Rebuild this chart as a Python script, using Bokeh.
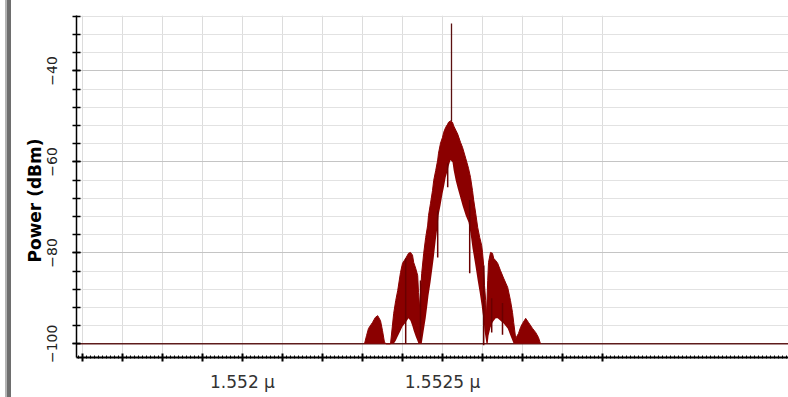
import numpy as np
from bokeh.plotting import figure
from bokeh.models import FixedTicker, CustomJSTickFormatter, Range1d, Div, Title
from bokeh.layouts import row
from bokeh.embed import file_html
from bokeh.resources import INLINE

# ---- spectrum envelope (wavelength in nm, power in dBm) ----
wavelength_nm = [
    1552.305, 1552.310, 1552.315, 1552.325, 1552.332, 1552.338, 1552.345, 1552.350,
    1552.355, 1552.360, 1552.370, 1552.378, 1552.383, 1552.388, 1552.395, 1552.400,
    1552.408, 1552.415, 1552.420, 1552.425, 1552.428, 1552.433, 1552.438, 1552.440,
    1552.443, 1552.445, 1552.448, 1552.453, 1552.458, 1552.463, 1552.465, 1552.470,
    1552.475, 1552.478, 1552.483, 1552.488, 1552.490, 1552.495, 1552.500, 1552.503,
    1552.508, 1552.513, 1552.515, 1552.520, 1552.525, 1552.528, 1552.533, 1552.538,
    1552.545, 1552.550, 1552.558, 1552.565, 1552.570, 1552.575, 1552.578, 1552.583,
    1552.588, 1552.593, 1552.598, 1552.600, 1552.603, 1552.605, 1552.608, 1552.610,
    1552.613, 1552.615, 1552.620, 1552.625, 1552.628, 1552.633, 1552.638, 1552.645,
    1552.653, 1552.663, 1552.670, 1552.675, 1552.678, 1552.683, 1552.690, 1552.695,
    1552.700, 1552.708, 1552.715, 1552.725, 1552.733, 1552.740, 1552.745,
]
upper_dbm = [
    -100.0, -98.2, -96.6, -95.3, -94.2, -93.8, -94.9, -97.1,
    -99.7, -100.0, -100.0, -93.3, -90.5, -88.3, -84.3, -82.3,
    -81.2, -80.1, -79.9, -80.5, -82.1, -83.4, -85.0, -88.7,
    -92.2, -88.7, -84.5, -80.1, -76.6, -73.9, -71.8, -69.1,
    -66.3, -64.1, -61.9, -59.6, -58.1, -55.9, -54.6, -53.5,
    -52.4, -51.7, -51.3, -51.0, -51.3, -52.1, -53.0, -53.9,
    -55.7, -56.8, -59.2, -61.4, -63.4, -66.3, -68.4, -71.3,
    -74.4, -76.6, -78.4, -79.9, -82.8, -87.2, -90.5, -93.8,
    -86.1, -82.1, -79.9, -80.1, -81.2, -81.7, -82.3, -83.9,
    -85.6, -87.6, -90.5, -93.1, -95.3, -98.8, -97.7, -96.4,
    -95.5, -94.4, -95.3, -96.6, -97.5, -98.6, -100.0,
]
lower_dbm = [
    -100.0, -100.0, -100.0, -100.0, -100.0, -100.0, -100.0, -100.0,
    -100.0, -100.0, -100.0, -100.0, -99.3, -98.4, -97.1, -96.2,
    -95.3, -94.4, -94.9, -96.2, -97.1, -98.4, -99.5, -100.0,
    -100.0, -100.0, -100.0, -97.1, -94.4, -90.9, -89.4, -86.5,
    -83.2, -81.2, -77.3, -73.9, -71.8, -69.6, -67.0, -65.8,
    -63.4, -61.9, -61.0, -59.6, -60.1, -61.9, -64.1, -65.8,
    -68.0, -69.6, -71.8, -73.3, -75.7, -79.0, -80.5, -83.2,
    -86.1, -88.7, -91.6, -93.1, -94.9, -97.1, -98.8, -100.0,
    -100.0, -98.2, -96.4, -95.3, -94.9, -94.4, -94.4, -94.9,
    -95.5, -96.6, -98.2, -99.3, -100.0, -100.0, -100.0, -100.0,
    -100.0, -100.0, -100.0, -100.0, -100.0, -100.0, -100.0,
]

# deep single-sample dips reaching below the lower envelope
dip_nm = [1552.408, 1552.445, 1552.488, 1552.513, 1552.568, 1552.603, 1552.623, 1552.650]
dip_top_dbm = [-81.2, -86.1, -70.7, -60.3, -68.4, -82.8, -90.0, -91.0]
dip_bottom_dbm = [-100.0, -99.3, -81.0, -65.6, -84.5, -100.3, -97.5, -98.0]

# CW carrier line
carrier_nm = [1552.5225]
carrier_top_dbm = [-29.6]
carrier_base_dbm = [-51.0]

# noise floor
floor_nm = [1551.50, 1553.50]
floor_dbm = [-100.0, -100.0]

# axis ticks
x_major_ticks_um = [1.5516, 1.5517, 1.5518, 1.5519, 1.5520, 1.5521, 1.5522,
                    1.5523, 1.5524, 1.5525, 1.5526, 1.5527, 1.5528, 1.5529]
x_label_ticks_um = [1.552, 1.5525]
x_tick_labels = ["1.552 \u03bc", "1.5525 \u03bc"]
y_label_ticks = [-100, -80, -60, -40]
y_title = "Power (dBm)"

to_um = lambda v: (np.asarray(v) / 1000.0).tolist()

p = figure(
    width=777, height=397,
    x_range=Range1d(1.551585, 1.553365),
    y_range=Range1d(-103.0, -27.83),
    output_backend="svg", toolbar_location=None,
    min_border_left=65, min_border_right=0, min_border_top=15, min_border_bottom=40,
    background_fill_color="white", border_fill_color="white",
)
p.outline_line_color = None

# grid
p.xgrid.ticker = FixedTicker(ticks=x_major_ticks_um)
p.xgrid.grid_line_color = "#dcdcdc"
p.ygrid.grid_line_color = "#c4c4c4"
p.ygrid.minor_grid_line_color = "#e2e2e2"

# x axis
xminor = np.round(np.arange(1.55159, 1.55337, 0.00001), 6).tolist()
p.xaxis.ticker = FixedTicker(ticks=x_major_ticks_um, minor_ticks=xminor)
p.xaxis.formatter = CustomJSTickFormatter(
    args=dict(label_pos=x_label_ticks_um, label_txt=x_tick_labels),
    code="""
    for (let i = 0; i < label_pos.length; i++) {
        if (Math.abs(tick - label_pos[i]) < 1e-9) return label_txt[i];
    }
    return '';
""")
p.xaxis.axis_line_width = 2
p.xaxis.axis_line_color = "black"
p.xaxis.major_tick_in = 4
p.xaxis.major_tick_out = 4
p.xaxis.major_tick_line_width = 2
p.xaxis.minor_tick_in = 2
p.xaxis.minor_tick_out = 1
p.xaxis.minor_tick_line_width = 1
p.xaxis.major_label_text_font = "DejaVu Sans"
p.xaxis.major_label_text_font_size = "17px"
p.xaxis.major_label_text_color = "#333333"
p.xaxis.major_label_standoff = 10

# y axis
p.yaxis.ticker = FixedTicker(ticks=y_label_ticks,
                             minor_ticks=list(range(-100, -27, 4)))
p.yaxis.axis_line_width = 1.5
p.yaxis.axis_line_color = "black"
p.yaxis.major_tick_in = 4
p.yaxis.major_tick_out = 4
p.yaxis.major_tick_line_width = 1.5
p.yaxis.minor_tick_in = 4
p.yaxis.minor_tick_out = 4
p.yaxis.minor_tick_line_width = 1.5
p.yaxis.major_label_orientation = "vertical"
p.yaxis.major_label_text_font = "DejaVu Sans"
p.yaxis.major_label_text_font_size = "14px"
p.yaxis.major_label_text_color = "#222222"
p.yaxis.major_label_standoff = 15

# y axis title, anchored from the bottom of the frame
p.add_layout(Title(text=y_title, align="left", offset=95, standoff=0,
                   text_font="DejaVu Sans", text_font_style="bold",
                   text_font_size="17px", text_color="black"), "left")

red = "#8b0000"

p.line(to_um(floor_nm), floor_dbm, line_color="#5e1c1c", line_width=1.5)
p.varea(x=to_um(wavelength_nm), y1=lower_dbm, y2=upper_dbm, fill_color=red)
p.line(to_um(wavelength_nm), upper_dbm, line_color=red, line_width=1)
p.segment(x0=to_um(dip_nm), y0=dip_top_dbm, x1=to_um(dip_nm), y1=dip_bottom_dbm,
          line_color="#6a0000", line_width=1.5)
p.segment(x0=to_um(carrier_nm), y0=carrier_base_dbm, x1=to_um(carrier_nm), y1=carrier_top_dbm,
          line_color="#5a1010", line_width=1.3)

# window frame on the left
frame_bar = Div(text="", width=11, height=397, margin=0,
                styles={"background": "linear-gradient(to right, #ffffff 0px 5px, "
                                      "#b4b4b4 5px 7px, #6e6e6e 7px 11px)"})

layout = row(frame_bar, p)
open("out.html", "w").write(file_html(layout, INLINE))
